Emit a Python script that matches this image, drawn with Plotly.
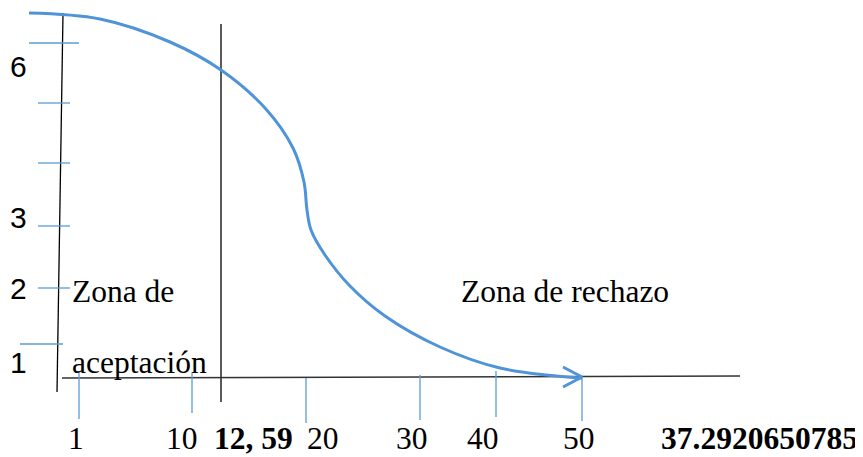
import plotly.graph_objects as go

# Curve (pixel-space drawing coordinates)
curve_x = [29, 100, 170, 221, 265, 293, 304, 307, 311, 325, 350, 385, 440, 500, 582]
curve_y = [13, 19, 42, 70, 108, 148, 182, 210, 230, 255, 286, 316, 347, 368, 378]

# Y-axis tick marks (blue) and labels
ytick_y = [43, 103, 163, 226, 288, 344]
ytick_x0 = [29, 38, 38, 38, 38, 20]
ytick_x1 = [79, 70, 70, 70, 70, 63]
ylabel_text = ["6", "3", "2", "1"]
ylabel_y = [66, 217, 288, 362]

# X-axis tick marks (blue) and labels
xtick_x = [79, 192, 306, 420, 496, 582]
xtick_y0 = [373, 373, 378, 375, 371, 378]
xtick_y1 = [419, 413, 423, 420, 417, 421]
xlabel_text = ["1", "10", "<b>12, 59</b>", "20", "30", "40", "50", "<b>37.2920650785</b>"]
xlabel_x = [76, 182, 253, 323, 412, 483, 579, 759]

BLUE = "#5B9BD5"
CURVE = "#4F93D8"
OFF = 8  # page body margin
fig = go.Figure()

# main axes lines (black)
fig.add_trace(go.Scatter(x=[63, 57], y=[13, 392], mode="lines", line=dict(color="black", width=1.3), hoverinfo="skip"))
fig.add_trace(go.Scatter(x=[221, 221], y=[24, 402], mode="lines", line=dict(color="black", width=1.3), hoverinfo="skip"))
fig.add_trace(go.Scatter(x=[62, 740], y=[378, 376], mode="lines", line=dict(color="#333333", width=1.5), hoverinfo="skip"))

# y ticks
for y, a, b in zip(ytick_y, ytick_x0, ytick_x1):
    fig.add_trace(go.Scatter(x=[a, b], y=[y, y], mode="lines", line=dict(color=BLUE, width=1.3), hoverinfo="skip"))
# x ticks
for x, a, b in zip(xtick_x, xtick_y0, xtick_y1):
    fig.add_trace(go.Scatter(x=[x, x], y=[a, b], mode="lines", line=dict(color=BLUE, width=1.3), hoverinfo="skip"))

# curve
fig.add_trace(go.Scatter(x=curve_x, y=curve_y, mode="lines", line=dict(color=CURVE, width=3, shape="spline", smoothing=1.0), hoverinfo="skip"))
# arrow head
fig.add_trace(go.Scatter(x=[563, 582, 563], y=[367, 377, 387], mode="lines", line=dict(color=CURVE, width=3), hoverinfo="skip"))

ann = []
for t, y in zip(ylabel_text, ylabel_y):
    ann.append(dict(x=18, y=y, text=t, showarrow=False, xanchor="center", yanchor="middle",
                    font=dict(family="Liberation Sans, Arial", size=30, color="black")))
for t, x in zip(xlabel_text, xlabel_x):
    ann.append(dict(x=x, y=438, text=t, showarrow=False, xanchor="center", yanchor="middle",
                    font=dict(family="Liberation Serif, Times New Roman", size=31.5, color="black")))
ann.append(dict(x=70, y=291, text="Zona de", showarrow=False, xanchor="left", yanchor="middle",
                font=dict(family="Liberation Serif, Times New Roman", size=31.5, color="black")))
ann.append(dict(x=70, y=362, text="aceptación", showarrow=False, xanchor="left", yanchor="middle",
                font=dict(family="Liberation Serif, Times New Roman", size=31.5, color="black")))
ann.append(dict(x=459, y=291, text="Zona de rechazo", showarrow=False, xanchor="left", yanchor="middle",
                font=dict(family="Liberation Serif, Times New Roman", size=31.5, color="black")))

fig.update_layout(
    width=863 - OFF, height=457 - OFF, margin=dict(l=0, r=0, t=0, b=0),
    paper_bgcolor="white", plot_bgcolor="white", showlegend=False,
    xaxis=dict(range=[OFF, 863], visible=False, fixedrange=True),
    yaxis=dict(range=[457, OFF], visible=False, fixedrange=True),
    annotations=ann,
)
fig.write_html("out.html")
